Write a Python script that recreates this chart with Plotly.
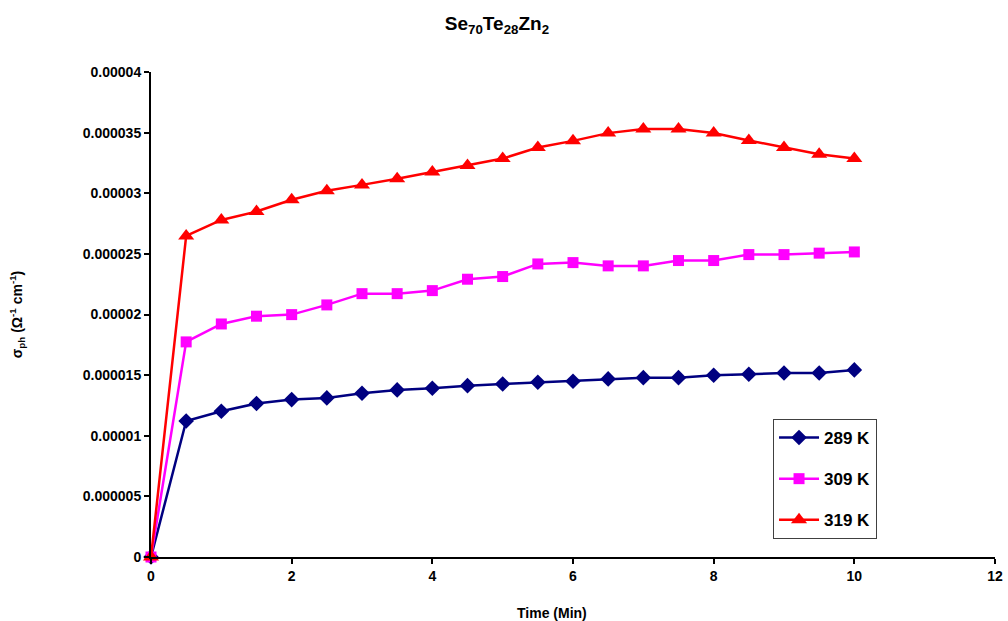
import plotly.graph_objects as go

time_min = [0, 0.5, 1, 1.5, 2, 2.5, 3, 3.5, 4, 4.5, 5, 5.5, 6, 6.5, 7, 7.5, 8, 8.5, 9, 9.5, 10]

s289 = [0, 1.122e-5, 1.202e-5, 1.266e-5, 1.298e-5, 1.312e-5, 1.350e-5, 1.378e-5, 1.392e-5, 1.413e-5,
        1.427e-5, 1.441e-5, 1.450e-5, 1.469e-5, 1.479e-5, 1.479e-5, 1.499e-5, 1.507e-5, 1.518e-5, 1.518e-5, 1.543e-5]
s309 = [0, 1.774e-5, 1.922e-5, 1.986e-5, 1.999e-5, 2.079e-5, 2.172e-5, 2.172e-5, 2.197e-5, 2.291e-5,
        2.313e-5, 2.417e-5, 2.428e-5, 2.401e-5, 2.401e-5, 2.445e-5, 2.445e-5, 2.494e-5, 2.494e-5, 2.506e-5, 2.516e-5]
s319 = [0, 2.648e-5, 2.780e-5, 2.849e-5, 2.946e-5, 3.020e-5, 3.069e-5, 3.119e-5, 3.176e-5, 3.228e-5,
        3.286e-5, 3.377e-5, 3.432e-5, 3.496e-5, 3.529e-5, 3.529e-5, 3.496e-5, 3.435e-5, 3.377e-5, 3.322e-5, 3.286e-5]

series_names = ["289 K", "309 K", "319 K"]
series_colors = ["#000080", "#FF00FF", "#FF0000"]
series_symbols = ["diamond", "square", "triangle-up"]
series_sizes = [12, 11, 14]

y_tickvals = [0, 0.000005, 0.00001, 0.000015, 0.00002, 0.000025, 0.00003, 0.000035, 0.00004]
y_ticktext = ["0", "0.000005", "0.00001", "0.000015", "0.00002", "0.000025", "0.00003", "0.000035", "0.00004"]
x_tickvals = [0, 2, 4, 6, 8, 10, 12]

FONT = "Liberation Sans, Arial, sans-serif"

fig = go.Figure()
for name, ys, col, sym, sz in zip(series_names, [s289, s309, s319], series_colors, series_symbols, series_sizes):
    fig.add_trace(go.Scatter(
        x=time_min, y=ys, name=name, mode="lines+markers",
        line=dict(color=col, width=2.5),
        marker=dict(color=col, symbol=sym, size=sz),
        cliponaxis=False, legendgroup=name,
    ))

fig.update_layout(
    width=1008, height=621,
    margin=dict(l=151, r=13, t=72, b=64, autoexpand=False),
    paper_bgcolor="white", plot_bgcolor="white",
    font=dict(family=FONT, color="black", size=14, weight="bold"),
    title=dict(text="Se<sub>70</sub>Te<sub>28</sub>Zn<sub>2</sub>",
               x=0.493, xanchor="center", y=0.962, yanchor="middle",
               font=dict(size=19, family=FONT, weight="bold")),
    showlegend=True,
    legend=dict(x=0.737, y=0.2845, xanchor="left", yanchor="top",
                bordercolor="#404040", borderwidth=1, bgcolor="white",
                font=dict(size=17, family=FONT, weight="bold"), tracegroupgap=16,
                itemwidth=40),
    annotations=[dict(text="Time (Min)", xref="paper", yref="paper", x=0.475, y=-0.1155,
                      xanchor="center", yanchor="middle", showarrow=False,
                      font=dict(size=14, family=FONT, weight="bold"))],
)
fig.update_xaxes(
    range=[0, 12], tickvals=x_tickvals, ticktext=[str(v) for v in x_tickvals],
    showgrid=False, zeroline=False, showline=True, linecolor="black", linewidth=2,
    ticks="outside", ticklen=5, tickwidth=2, tickcolor="black", automargin=False,
    tickfont=dict(size=14, family=FONT, weight="bold"),
)
fig.update_yaxes(
    range=[0, 0.00004], tickvals=y_tickvals, ticktext=y_ticktext,
    showgrid=False, zeroline=False, showline=True, linecolor="black", linewidth=2,
    ticks="outside", ticklen=5, tickwidth=2, tickcolor="black", automargin=False,
    tickfont=dict(size=14, family=FONT, weight="bold"),
    title=dict(text="σ<sub>ph</sub> (Ω<sup>-1</sup> cm<sup>-1</sup>)",
               font=dict(size=14, family=FONT, weight="bold"), standoff=57),
)

fig.write_html("out.html")
